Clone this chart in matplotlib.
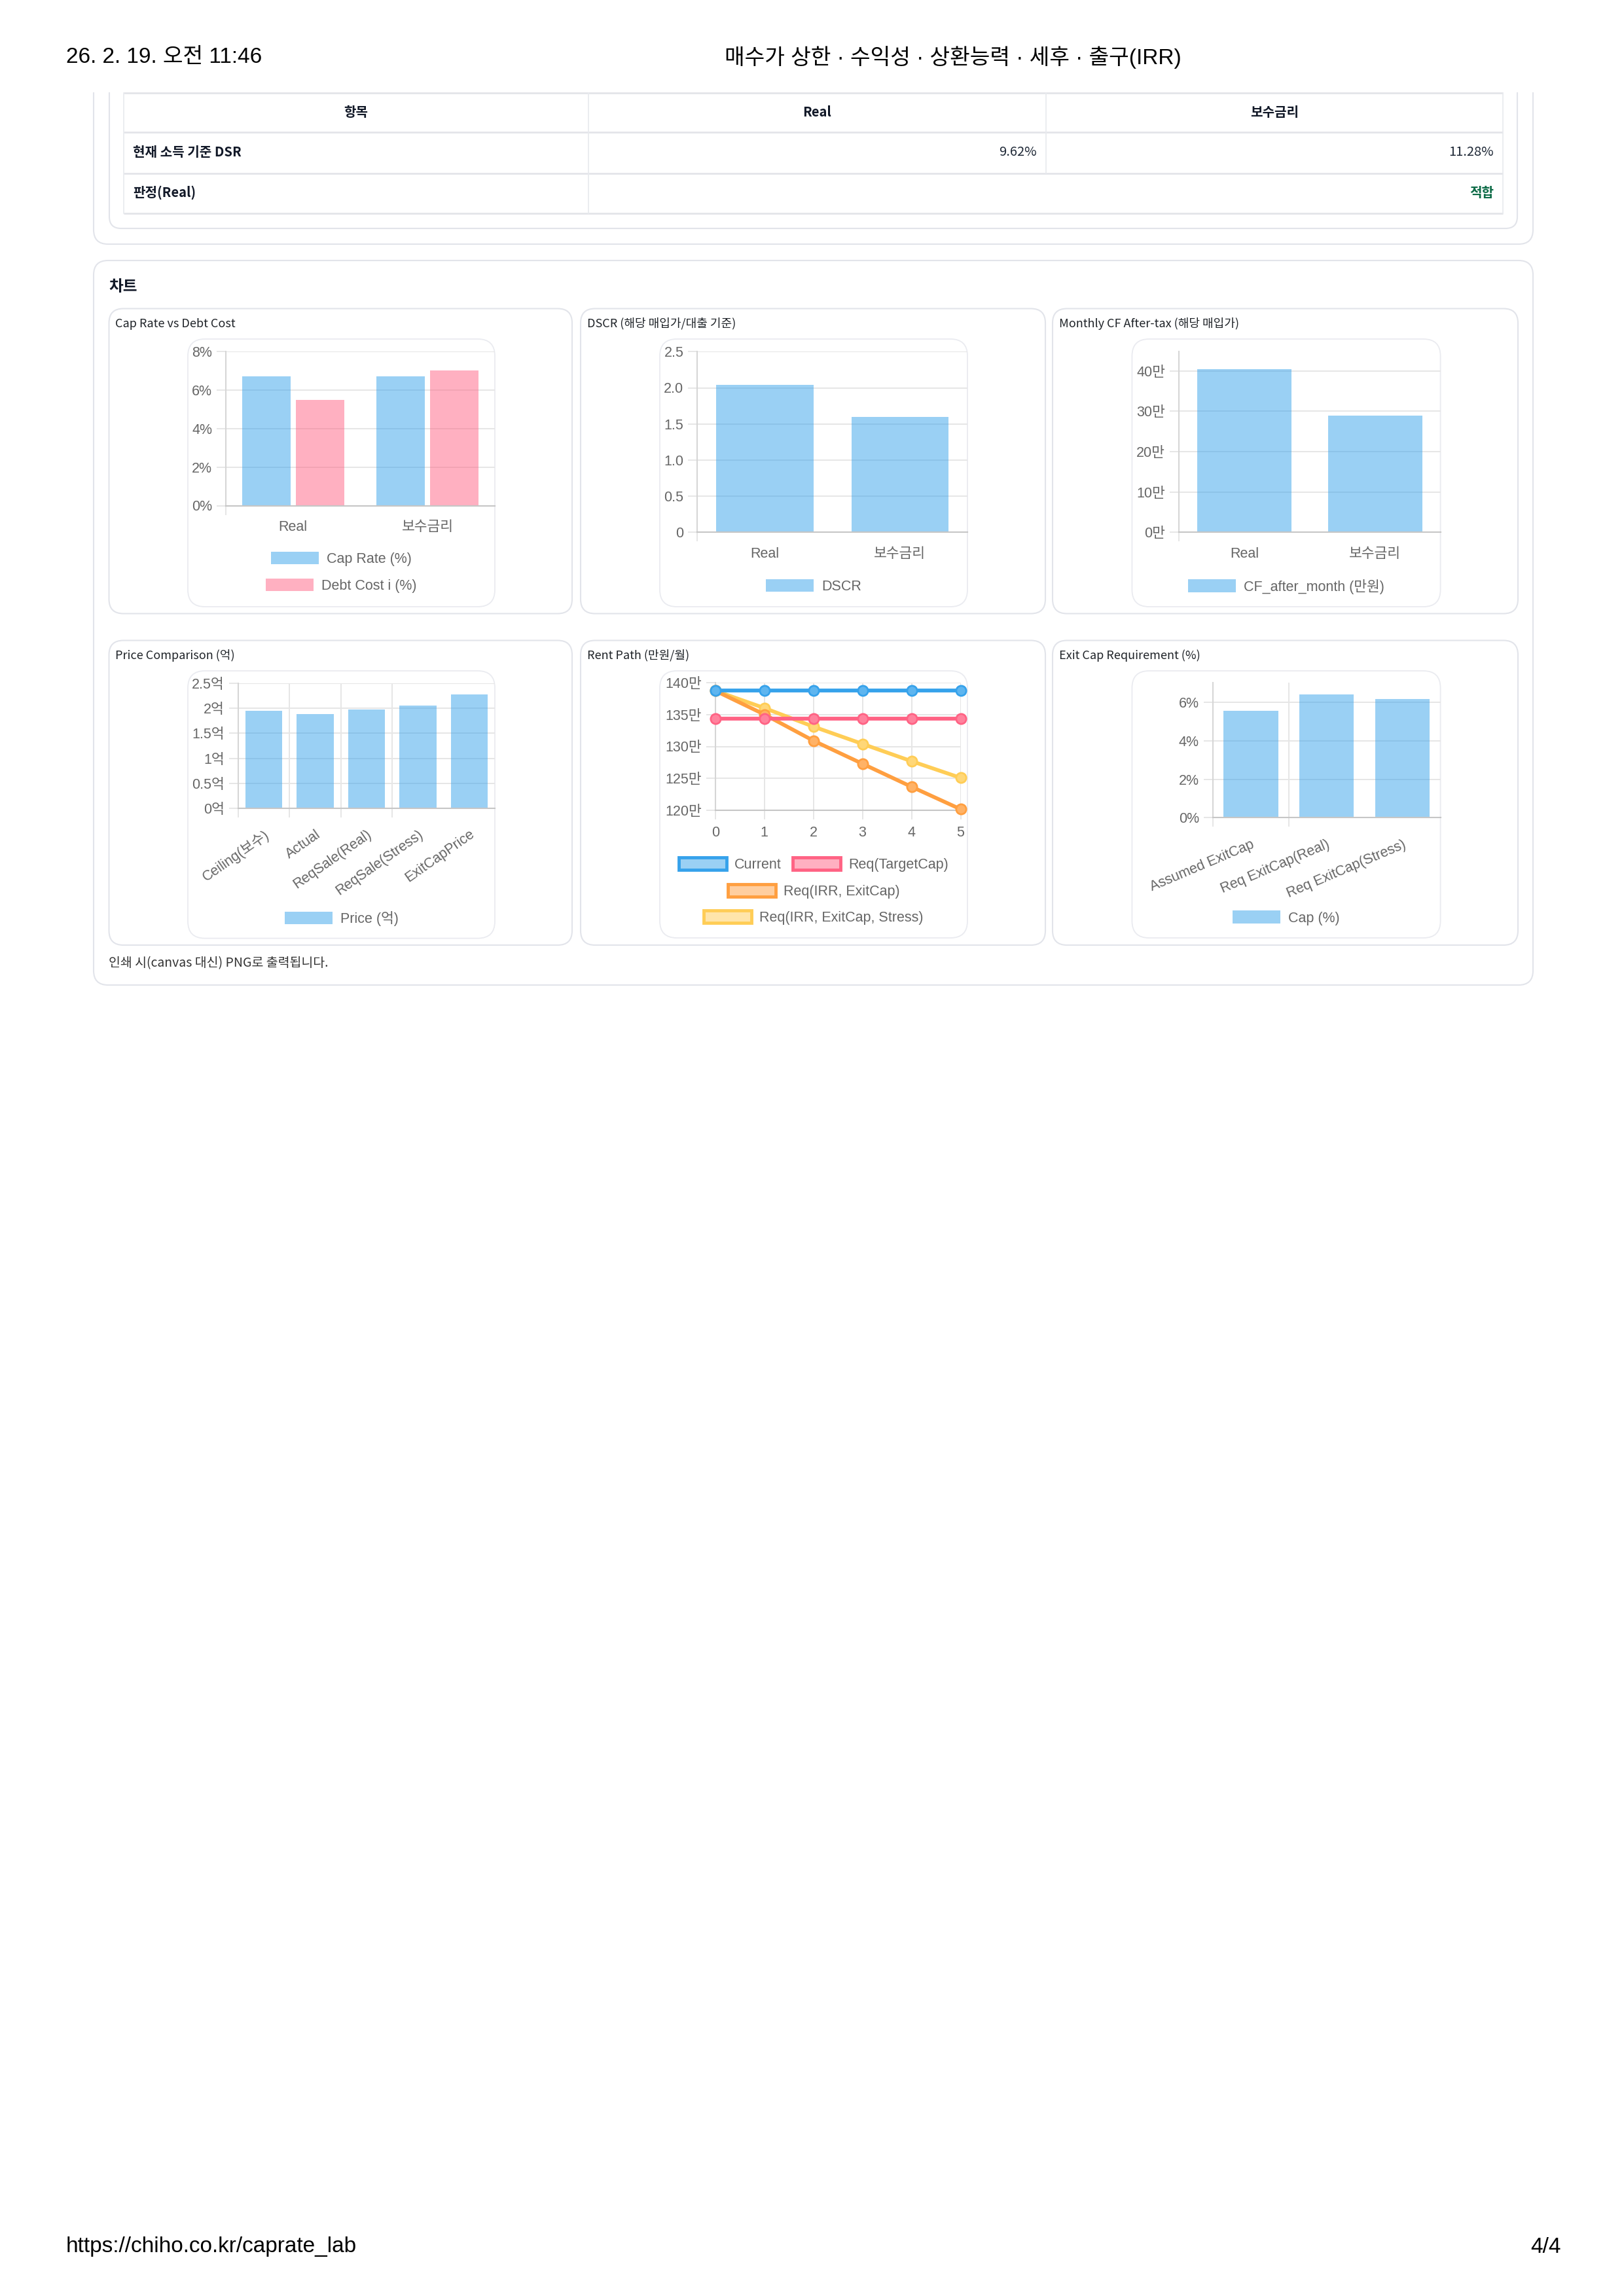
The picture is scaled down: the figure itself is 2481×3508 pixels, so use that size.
"""Caprate lab print page 4/4: DSR table plus six Chart.js style panels"""
import numpy as np
import matplotlib
matplotlib.use('Agg')
from matplotlib import pyplot as plt
from matplotlib.patches import FancyBboxPatch, Patch, Rectangle
from matplotlib.colors import to_rgba, to_rgb

W, H = 2481, 3508
SANS = ['Liberation Sans', 'Noto Sans CJK KR', 'DejaVu Sans']
KR = ['Noto Sans CJK KR', 'DejaVu Sans']
plt.rcParams['font.family'] = SANS

# ---- page text ----
header_date = '26. 2. 19. 오전 11:46'
header_title = '매수가 상한 · 수익성 · 상환능력 · 세후 · 출구(IRR)'
footer_url = 'https://chiho.co.kr/caprate_lab'
footer_page = '4/4'
print_note = '인쇄 시(canvas 대신) PNG로 출력됩니다.'

# ---- DSR table ----
table_cols = ['항목', 'Real', '보수금리']
dsr_label = '현재 소득 기준 DSR'
dsr_values = ['9.62%', '11.28%']
verdict_label = '판정(Real)'
verdict_value = '적합'

# ---- chart data ----
scen_labels = ['Real', '보수금리']
cap_rate = [6.72, 6.72]          # %
debt_cost = [5.48, 7.0]          # %
dscr = [2.04, 1.60]
cf_after_month = [40.4, 28.9]    # 만원

price_labels = ['Ceiling(보수)', 'Actual', 'ReqSale(Real)', 'ReqSale(Stress)', 'ExitCapPrice']
price_values = [1.95, 1.89, 1.98, 2.06, 2.28]   # 억

rent_years = [0, 1, 2, 3, 4, 5]
rent_current = [138.7, 138.7, 138.7, 138.7, 138.7, 138.7]   # 만원/월
rent_target = [134.3, 134.3, 134.3, 134.3, 134.3, 134.3]
rent_irr = [138.7, 135.0, 130.9, 127.3, 123.7, 120.2]
rent_stress = [138.7, 136.0, 133.1, 130.4, 127.7, 125.1]

exit_labels = ['Assumed ExitCap', 'Req ExitCap(Real)', 'Req ExitCap(Stress)']
exit_values = [5.55, 6.43, 6.18]   # %

# tick labels
pct8_ticks = [0, 2, 4, 6, 8]
pct8_labels = ['0%', '2%', '4%', '6%', '8%']
dscr_ticks = [0, 0.5, 1.0, 1.5, 2.0, 2.5]
dscr_labels = ['0', '0.5', '1.0', '1.5', '2.0', '2.5']
cf_ticks = [0, 10, 20, 30, 40]
cf_labels = ['0만', '10만', '20만', '30만', '40만']
price_ticks = [0, 0.5, 1, 1.5, 2, 2.5]
price_tick_labels = ['0억', '0.5억', '1억', '1.5억', '2억', '2.5억']
rent_ticks = [120, 125, 130, 135, 140]
rent_tick_labels = ['120만', '125만', '130만', '135만', '140만']
exit_ticks = [0, 2, 4, 6]
exit_tick_labels = ['0%', '2%', '4%', '6%']

BLUE, PINK, ORANGE, YELLOW = '#36a2eb', '#ff6384', '#ff9f40', '#ffcd56'
GRID = '#e6e6e6'
AXIS = '#c6c6c6'
TICK = '#666666'
BORDER = '#e2e4ea'
FS = 15.5


def soft(c):
    return to_rgba(c, 0.5)


def tint(c, k):
    return tuple(k + (1 - k) * v for v in to_rgb(c))


fig = plt.figure(figsize=(W / 100, H / 100), dpi=100)
bg = fig.add_axes([0, 0, 1, 1])
bg.set_xlim(0, W)
bg.set_ylim(H, 0)
bg.axis('off')


def rbox(x0, y0, x1, y1, r, ec, lw=1.5, clip_top=None):
    p = FancyBboxPatch((x0 + r, y0 + r), x1 - x0 - 2 * r, y1 - y0 - 2 * r,
                       boxstyle='round,pad=%g' % r, fc='none', ec=ec, lw=lw)
    bg.add_patch(p)
    if clip_top is not None:
        p.set_clip_path(Rectangle((0, clip_top), W, H, transform=bg.transData))
    return p


# page header / footer
bg.text(101, 88, header_date, size=24, va='center', ha='left')
bg.text(1456, 88, header_title, size=24, va='center', ha='center')
bg.text(101, 3433, footer_url, size=24, va='center', ha='left')
bg.text(2385, 3433, footer_page, size=24, va='center', ha='right')

# table card (continues from previous page)
rbox(143, 40, 2342, 373, 22, BORDER, clip_top=141)
rbox(167, 40, 2318, 349, 18, BORDER, clip_top=141)

tx = [189, 899, 1598, 2296]
ty = [142, 202, 265, 326]
for y in ty:
    bg.plot([tx[0], tx[-1]], [y, y], color='#e3e5e9', lw=2.0, solid_capstyle='butt')
for x in tx:
    bottom = ty[2] if x == tx[2] else ty[3]
    bg.plot([x, x], [ty[0], bottom], color='#e8eaee', lw=1.2)

row_c = [(ty[i] + ty[i + 1]) / 2 - 1 for i in range(3)]
for i, c in enumerate(table_cols):
    bg.text((tx[i] + tx[i + 1]) / 2, row_c[0], c, family=KR, size=14.5,
            weight='bold', color='#111827', ha='center', va='center')
bg.text(203, row_c[1], dsr_label, family=KR, size=14.5, weight='bold',
        color='#111827', va='center')
for i, v in enumerate(dsr_values):
    bg.text(tx[i + 2] - 14, row_c[1], v, family=KR, size=14.5,
            color='#1f2937', ha='right', va='center')
bg.text(203, row_c[2], verdict_label, family=KR, size=14.5, weight='bold',
        color='#111827', va='center')
bg.text(tx[3] - 14, row_c[2], verdict_value, family=KR, size=14.5,
        weight='bold', color='#0d6b47', ha='right', va='center')

# chart card
rbox(143, 398, 2342, 1505, 22, BORDER)
bg.text(166, 438, '차트', family=KR, size=17, weight='bold', color='#111827',
        va='center')
bg.text(166, 1472, print_note, family=KR, size=14, color='#333333', va='center')


def panel(card, frame, plot, title):
    x0, y0, x1, y1 = card
    rbox(x0, y0, x1, y1, 22, BORDER)
    rbox(*frame, 26, '#eaebf0', lw=1.3)
    bg.text(x0 + 10, y0 + 23, title, family=KR, size=13, color='#1f2328',
            va='center')
    px0, py0, px1, py1 = plot
    ax = fig.add_axes([px0 / W, 1 - py1 / H, (px1 - px0) / W, (py1 - py0) / H])
    ax.patch.set_alpha(0)
    ax.spines[['top', 'right']].set_visible(False)
    ax.spines['left'].set_color('#d6d6d6')
    ax.spines['bottom'].set_color(AXIS)
    for s in ax.spines.values():
        s.set_linewidth(1.5)
    ax.tick_params(which='major', length=10, width=1.4, color=GRID,
                   labelsize=FS, labelcolor=TICK, pad=5)
    ax.grid(True, color=GRID, lw=1.4)
    ax.set_axisbelow(True)
    return ax


def cat_axis(ax, labels, rot=0, pad=16):
    n = len(labels)
    ax.set_xlim(-0.5, n - 0.5)
    ax.set_xticks(np.arange(n - 1) - 0.5)
    ax.set_xticklabels([])
    ax.set_xticks(np.arange(n), minor=True)
    if rot:
        ax.set_xticklabels(labels, minor=True, rotation=rot, ha='right',
                           rotation_mode='anchor')
    else:
        ax.set_xticklabels(labels, minor=True)
    ax.tick_params(axis='x', which='minor', length=0, pad=pad, labelsize=FS,
                   labelcolor=TICK)


def y_axis(ax, lo, hi, ticks, labels):
    ax.set_ylim(lo, hi)
    ax.set_yticks(ticks)
    ax.set_yticklabels(labels)


def legend_row(items, cx, cy):
    handles = [Patch(fc=fc, ec=ec, lw=lw) for fc, ec, lw, _ in items]
    fig.legend(handles, [t for _, _, _, t in items], loc='center',
               bbox_to_anchor=(cx / W, 1 - cy / H), ncol=len(items),
               frameon=False, fontsize=FS, labelcolor=TICK, handlelength=3.4,
               handleheight=1.0, handletextpad=0.55, columnspacing=0.8,
               borderpad=0, borderaxespad=0)


x2 = np.arange(len(scen_labels))

# 1. Cap Rate vs Debt Cost
ax = panel((166.5, 471.5, 874, 937.5), (287, 518, 756, 927),
           (345, 536.8, 756, 772.5), 'Cap Rate vs Debt Cost')
ax.bar(x2 - 0.2, cap_rate, 0.36, color=soft(BLUE))
ax.bar(x2 + 0.2, debt_cost, 0.36, color=soft(PINK))
cat_axis(ax, scen_labels)
y_axis(ax, 0, 8, pct8_ticks, pct8_labels)
legend_row([(soft(BLUE), 'none', 0, 'Cap Rate (%)')], 521.5, 854)
legend_row([(soft(PINK), 'none', 0, 'Debt Cost i (%)')], 521.5, 895)

# 2. DSCR
ax = panel((887, 471.5, 1597, 937.5), (1008, 518, 1478, 927),
           (1065.3, 537.3, 1478, 813.3), 'DSCR (해당 매입가/대출 기준)')
ax.bar(x2, dscr, 0.72, color=soft(BLUE))
cat_axis(ax, scen_labels)
y_axis(ax, 0, 2.5, dscr_ticks, dscr_labels)
legend_row([(soft(BLUE), 'none', 0, 'DSCR')], 1243, 896)

# 3. Monthly CF after tax
ax = panel((1608, 471.5, 2319, 937.5), (1729.4, 518, 2200.6, 927),
           (1801, 537.3, 2200.6, 813.3), 'Monthly CF After-tax (해당 매입가)')
ax.bar(x2, cf_after_month, 0.72, color=soft(BLUE))
cat_axis(ax, scen_labels)
y_axis(ax, 0, 44.76, cf_ticks, cf_labels)
legend_row([(soft(BLUE), 'none', 0, 'CF_after_month (만원)')], 1965, 896)

# 4. Price comparison
ax = panel((166.5, 978.5, 874, 1444), (287, 1025, 756, 1433.6),
           (363.8, 1044, 756, 1235), 'Price Comparison (억)')
ax.bar(np.arange(len(price_labels)), price_values, 0.72, color=soft(BLUE))
cat_axis(ax, price_labels, rot=35, pad=21)
y_axis(ax, 0, 2.5, price_ticks, price_tick_labels)
legend_row([(soft(BLUE), 'none', 0, 'Price (억)')], 521.5, 1403.5)

# 5. Rent path
ax = panel((887, 978.5, 1597, 1444), (1008, 1025, 1478, 1433),
           (1092.8, 1042.7, 1467.5, 1238.3), 'Rent Path (만원/월)')
series = [(rent_current, BLUE, 'Current'),
          (rent_target, PINK, 'Req(TargetCap)'),
          (rent_irr, ORANGE, 'Req(IRR, ExitCap)'),
          (rent_stress, YELLOW, 'Req(IRR, ExitCap, Stress)')]
for i, (vals, c, lab) in enumerate(series):
    ax.plot(rent_years, vals, color=c, lw=4.2, marker='o', ms=11,
            mfc=tint(c, 0.2), mec=c, mew=2.0, clip_on=False, zorder=10 - i)
ax.set_xlim(0, 5)
ax.set_xticks(rent_years)
ax.tick_params(axis='x', which='major', pad=7)
y_axis(ax, 120, 140, rent_ticks, rent_tick_labels)
leg = [(soft(c), c, 3.5, lab) for _, c, lab in series]
legend_row(leg[:2], 1243, 1321)
legend_row(leg[2:3], 1243, 1362)
legend_row(leg[3:], 1243, 1402)

# 6. Exit cap requirement
ax = panel((1608, 978.5, 2319, 1444), (1729.4, 1025, 2200.6, 1433),
           (1852.8, 1043.3, 2200.6, 1249.3), 'Exit Cap Requirement (%)')
ax.bar(np.arange(len(exit_labels)), exit_values, 0.72, color=soft(BLUE))
cat_axis(ax, exit_labels, rot=23, pad=22)
y_axis(ax, 0, 7.02, exit_ticks, exit_tick_labels)
legend_row([(soft(BLUE), 'none', 0, 'Cap (%)')], 1965, 1402.5)

fig.savefig('out.png', dpi=100)
